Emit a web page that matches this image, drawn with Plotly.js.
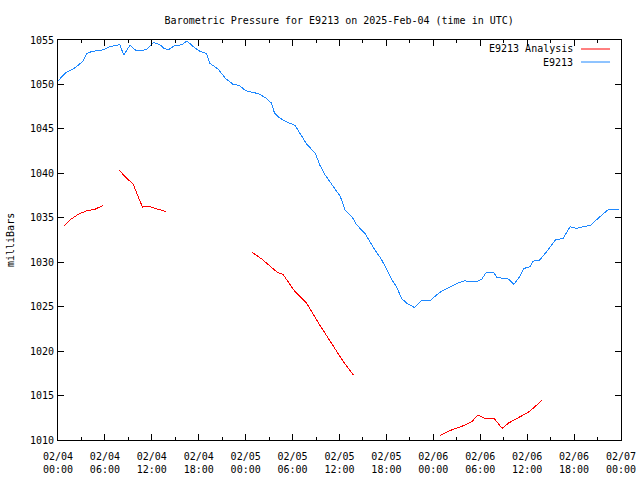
<!DOCTYPE html>
<html>
<head>
<meta charset="utf-8">
<script src="https://cdn.plot.ly/plotly-3.0.1.min.js"></script>
<style>html,body{margin:0;padding:0;background:#fff;}#chart{width:640px;height:480px;}
.scatterlayer path.js-line{shape-rendering:crispEdges;}</style>
</head>
<body>
<div id="chart"></div>
<script>
// Hours since 2025-02-04 00:00 UTC
const obsHours = [0,0.9,2.2,3.2,3.7,4.3,5.8,6.6,7.5,7.9,8.4,9.2,10,11.3,12.2,13,13.5,14.1,15,15.8,16.5,17.3,18.2,19,19.4,20.5,21.4,22.4,23.2,23.7,24.3,25,25.8,26.7,27.3,27.7,28.4,29.2,30.3,30.9,31.8,32.9,33.5,34.1,35.2,36.1,36.7,37.6,38.2,39.3,40.5,41.2,42.0,42.7,43.3,43.95,44.6,45.6,46.5,47.6,48.8,49.7,51,52,53.5,54.2,54.8,55.7,56.1,56.9,57.6,58.3,58.9,59.6,60.4,60.7,61.6,62.5,63.6,64.6,65.5,66.3,66.8,67.6,68.2,68.9,69.5,70.4,71.0,71.8];
const obsPressure = [1050.4,1051.25,1051.9,1052.6,1053.5,1053.7,1053.9,1054.25,1054.4,1054.5,1053.3,1054.4,1053.8,1053.9,1054.7,1054.5,1054.1,1053.9,1054.4,1054.45,1054.9,1054.25,1053.7,1053.5,1052.4,1051.7,1050.7,1050.0,1049.9,1049.5,1049.2,1049.1,1048.9,1048.4,1047.9,1046.75,1046.2,1045.8,1045.4,1044.5,1043.3,1042.25,1040.9,1039.9,1038.5,1037.4,1035.9,1035.1,1034.2,1033.2,1031.4,1030.55,1029.3,1028.0,1027.25,1025.9,1025.4,1024.9,1025.7,1025.7,1026.6,1027.0,1027.6,1027.9,1027.8,1028.1,1028.9,1028.9,1028.3,1028.2,1028.1,1027.5,1028.2,1029.3,1029.5,1030.1,1030.25,1031.2,1032.5,1032.7,1034.0,1033.8,1033.9,1034.0,1034.2,1034.8,1035.3,1035.95,1035.9,1035.95];

// Analysis segments
const anaHours1 = [0.77,1.5,2.6,3.7,4.7,5.8];
const anaPress1 = [1034.1,1034.75,1035.4,1035.8,1035.95,1036.4];
const anaHours2 = [7.8,8.6,9.6,10.1,10.8,11.5,12.8,13.8];
const anaPress2 = [1040.4,1039.6,1038.8,1037.75,1036.2,1036.3,1035.95,1035.7];
const anaHours3 = [24.85,26.0,28.0,28.8,30.3,31.8,33.5,35.2,36.5,37.8];
const anaPress3 = [1031.1,1030.4,1028.9,1028.6,1026.7,1025.4,1022.9,1020.5,1018.8,1017.3];
const anaHours4 = [48.8,50.1,51.8,52.9,53.7,54.6,55.8,56.8,57.6,59.1,60.1,61.0,61.9];
const anaPress4 = [1010.5,1011.05,1011.6,1012.05,1012.8,1012.4,1012.4,1011.3,1011.9,1012.6,1013.1,1013.75,1014.5];

const tickHours = [0,6,12,18,24,30,36,42,48,54,60,66,72];
const tickDates = ["02/04","02/04","02/04","02/04","02/05","02/05","02/05","02/05","02/06","02/06","02/06","02/06","02/07"];
const tickTimes = ["00:00","06:00","12:00","18:00","00:00","06:00","12:00","18:00","00:00","06:00","12:00","18:00","00:00"];

const seriesNames = ["E9213 Analysis","E9213"];
const seriesColors = ["#ff0000","#1e88ff"];

function joinSegments(segs){
  const out = [];
  segs.forEach((s,i)=>{ if(i>0) out.push(null); s.forEach(v=>out.push(v)); });
  return out;
}
const anaX = joinSegments([anaHours1,anaHours2,anaHours3,anaHours4]);
const anaY = joinSegments([anaPress1,anaPress2,anaPress3,anaPress4]);

const FONT = {family:"DejaVu Sans Mono, Liberation Mono, monospace", size:10, color:"#000"};

const traces = [
  {x:anaX, y:anaY, type:"scatter", mode:"lines", name:seriesNames[0], connectgaps:false,
   line:{color:seriesColors[0], width:1}, showlegend:false},
  {x:obsHours, y:obsPressure, type:"scatter", mode:"lines", name:seriesNames[1],
   line:{color:seriesColors[1], width:1}, showlegend:false}
];

const axisCommon = {showline:true, linecolor:"#000", linewidth:1, mirror:"ticks",
  ticks:"inside", ticklen:6, tickcolor:"#000", tickwidth:1, showgrid:false, zeroline:false,
  tickfont:FONT};

const layout = {
  width:640, height:480,
  margin:{l:58, r:19, t:40, b:40, pad:0},
  paper_bgcolor:"#fff", plot_bgcolor:"#fff",
  font:FONT,
  title:{text:"Barometric Pressure for E9213 on 2025-Feb-04 (time in UTC)", font:FONT, x:0.53, xanchor:"center", y:0.957, yanchor:"middle"},
  xaxis:Object.assign({}, axisCommon, {
    range:[0,72], tickmode:"array", tickvals:tickHours,
    ticktext:tickHours.map((h,i)=>tickDates[i]+"<br>"+tickTimes[i]),
    ticklabelstandoff:7,
    minor:{dtick:3, tick0:0, ticks:"inside", ticklen:3, tickcolor:"#000", showgrid:false}
  }),
  yaxis:Object.assign({}, axisCommon, {
    range:[1010,1055], dtick:5, tick0:1010, ticklabelstandoff:1
  }),
  annotations:[
    {xref:"paper", yref:"paper", x:0, xshift:-48, y:0.5, xanchor:"center", yanchor:"middle", textangle:-90, text:"milliBars", showarrow:false, font:FONT},
    {xref:"paper", yref:"paper", x:0.918, y:0.9775, xanchor:"right", yanchor:"middle", text:seriesNames[0], showarrow:false, font:FONT},
    {xref:"paper", yref:"paper", x:0.918, y:0.945, xanchor:"right", yanchor:"middle", text:seriesNames[1], showarrow:false, font:FONT}
  ],
  shapes:[
    {type:"line", xref:"paper", yref:"paper", x0:0.929, x1:0.9805, y0:0.9775, y1:0.9775, line:{color:seriesColors[0], width:1}},
    {type:"line", xref:"paper", yref:"paper", x0:0.929, x1:0.9805, y0:0.945, y1:0.945, line:{color:seriesColors[1], width:1}}
  ]
};

Plotly.newPlot("chart", traces, layout, {staticPlot:true, displayModeBar:false});
</script>
</body>
</html>
